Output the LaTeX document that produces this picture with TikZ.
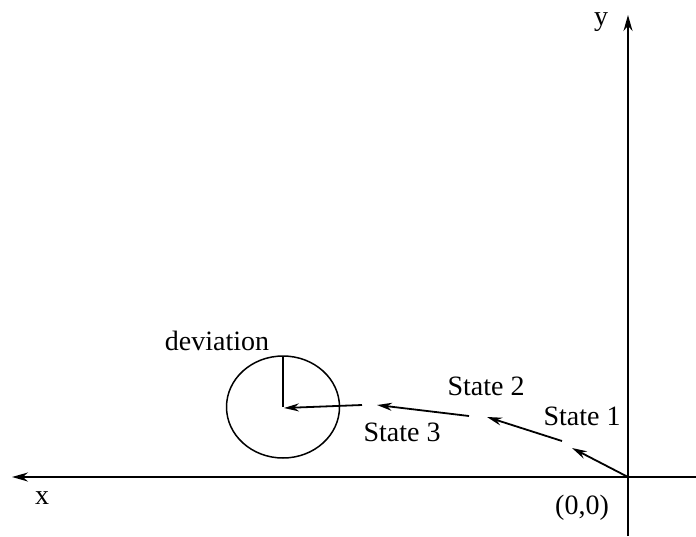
\documentclass[tikz,border=0pt]{standalone}
\usepackage{fontspec}
\setmainfont{Liberation Serif}
\usetikzlibrary{arrows.meta}
\begin{document}
\begin{tikzpicture}[x=1pt,y=-1pt,
  axis/.style={line width=1.8pt,-{Stealth[length=16pt,width=9pt]}},
  seg/.style={line width=1.8pt,-{Stealth[length=15pt,width=8pt]}},
  lbl/.style={inner sep=0pt,font=\fontsize{28}{32}\selectfont}]
\useasboundingbox (0,0) rectangle (696,536);
% axes
\coordinate (xs) at (696,477);
\coordinate (xe) at (12,477);
\coordinate (ys) at (628,536);
\coordinate (ye) at (628,15);
\draw[axis] (xs) -- (xe);
\draw[axis] (ys) -- (ye);
% deviation circle
\coordinate (c) at (283,407);
\coordinate (ctop) at (283,356);
\draw[line width=1.5pt] (c) ellipse [x radius=56.5, y radius=51];
\draw[line width=1.8pt] (c) -- (ctop);
% state path
\coordinate (o) at (628,477);
\coordinate (a1) at (572,448);
\coordinate (b0) at (562,441);
\coordinate (b1) at (487,417);
\coordinate (c0) at (469,416);
\coordinate (c1) at (377,405);
\coordinate (d0) at (362,405);
\coordinate (d1) at (284,408);
\draw[seg] (o) -- (a1);
\draw[seg] (b0) -- (b1);
\draw[seg] (c0) -- (c1);
\draw[seg] (d0) -- (d1);
% labels
\node[lbl] (ldev) at (217,341) {deviation};
\node[lbl] (ls1) at (582,416) {State 1};
\node[lbl] (ls2) at (486,386) {State 2};
\node[lbl] (ls3) at (402,432) {State 3};
\node[lbl] (lo) at (582,508) {(0,0)};
\node[lbl] (lx) at (42,498) {x};
\node[lbl] (ly) at (601,22) {y};
\end{tikzpicture}
\end{document}
